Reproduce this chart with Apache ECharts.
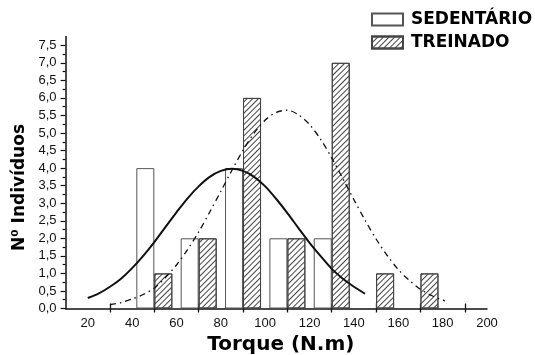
<!DOCTYPE html>
<html>
<head>
<meta charset="utf-8">
<script src="https://cdn.jsdelivr.net/npm/echarts@6/dist/echarts.min.js"></script>
<style>
  html, body { margin: 0; padding: 0; background: #fff; }
  #chart { width: 535px; height: 355px; }
</style>
</head>
<body>
<div id="chart"></div>
<script>
// histogram bins (centre of each 20 N.m class)
var binCenters = [50, 70, 90, 110, 130, 150, 170];
var sedentario = [4, 2, 4, 2, 2, 0, 0];
var treinado = [1, 2, 6, 2, 7, 1, 1];

// normal curves, every 5 N.m
var curveSedX = [20, 25, 30, 35, 40, 45, 50, 55, 60, 65, 70, 75, 80, 85, 90, 95, 100, 105, 110, 115, 120, 125, 130, 135, 140, 145];
var curveSedY = [0.30, 0.43, 0.62, 0.85, 1.15, 1.50, 1.89, 2.32, 2.74, 3.14, 3.48, 3.75, 3.92, 3.98, 3.92, 3.75, 3.48, 3.12, 2.72, 2.29, 1.87, 1.49, 1.13, 0.85, 0.62, 0.42];
var curveTreX = [30, 35, 40, 45, 50, 55, 60, 65, 70, 75, 80, 85, 90, 95, 100, 105, 110, 115, 120, 125, 130, 135, 140, 145, 150, 155, 160, 165, 170, 175, 181];
var curveTreY = [0.11, 0.17, 0.27, 0.40, 0.58, 0.88, 1.24, 1.68, 2.18, 2.75, 3.34, 3.94, 4.51, 5.00, 5.37, 5.59, 5.65, 5.52, 5.24, 4.82, 4.29, 3.70, 3.10, 2.52, 1.98, 1.51, 1.11, 0.80, 0.55, 0.37, 0.22];

// axis labels / tick marks
var xLabels = [20, 40, 60, 80, 100, 120, 140, 160, 180, 200];
var xTicks = [30, 50, 70, 90, 110, 130, 150, 170, 190];
var yLabels = ['0,0', '0,5', '1,0', '1,5', '2,0', '2,5', '3,0', '3,5', '4,0', '4,5', '5,0', '5,5', '6,0', '6,5', '7,0', '7,5'];

var FONT = 'DejaVu Sans';
var LABEL_FONT = 'Liberation Sans';

// category helpers used only to place tick marks
var xCats = [];
for (var v = 10; v <= 200; v += 10) xCats.push(v);
var yCats = [];
for (var k = 0; k < 32; k++) yCats.push(k * 0.25);

function pairs(xs, ys) {
  var out = [];
  for (var i = 0; i < xs.length; i++) out.push([xs[i], ys[i]]);
  return out;
}
function bars(vals) {
  var out = [];
  for (var i = 0; i < binCenters.length; i++) {
    if (vals[i] > 0) out.push([binCenters[i], vals[i]]);
  }
  return out;
}
function yLabelOf(v) {
  var idx = Math.round(v * 2);
  if (Math.abs(v * 2 - idx) > 1e-6) return '';
  return yLabels[idx] || '';
}

var hatch = {
  symbol: 'rect',
  symbolSize: 1,
  color: '#444',
  dashArrayX: [1, 0],
  dashArrayY: [1, 2.2],
  rotation: -Math.PI / 4
};

var tickCat = function (len, inside, show) {
  return {
    type: 'category',
    data: xCats,
    boundaryGap: false,
    position: 'bottom',
    axisLine: { show: false },
    axisLabel: { show: false },
    splitLine: { show: false },
    axisTick: {
      show: true,
      inside: inside,
      length: len,
      interval: function (i, val) { return show(+val); },
      lineStyle: { color: '#111', width: 1.3 }
    }
  };
};
var yTickCat = function (len, show) {
  return {
    type: 'category',
    data: yCats,
    boundaryGap: false,
    position: 'left',
    axisLine: { show: false },
    axisLabel: { show: false },
    splitLine: { show: false },
    axisTick: {
      show: true,
      length: len,
      interval: function (i) { return show(i); },
      lineStyle: { color: '#111', width: 1.2 }
    }
  };
};

var chart = echarts.init(document.getElementById('chart'));
chart.setOption({
  backgroundColor: '#fff',
  animation: false,
  textStyle: { fontFamily: LABEL_FONT },
  grid: { left: 65.6, right: 48, top: 36.5, bottom: 46.5, outerBoundsMode: 'none' },
  legend: {
    data: ['SEDENTÁRIO', 'TREINADO'],
    orient: 'vertical',
    left: 371,
    top: 11,
    padding: 0,
    icon: 'rect',
    itemWidth: 31,
    itemHeight: 12,
    itemGap: 6,
    textStyle: { fontFamily: FONT, fontWeight: 'bold', fontSize: 17, lineHeight: 16, color: '#000', padding: [0, 0, 0, 3] }
  },
  xAxis: [
    {
      type: 'value',
      min: 10,
      max: 200,
      interval: 10,
      name: 'Torque (N.m)',
      nameLocation: 'middle',
      nameGap: 24,
      nameTextStyle: { fontFamily: FONT, fontWeight: 'bold', fontSize: 20, color: '#000', padding: [0, 0, 0, 9] },
      axisLine: { lineStyle: { color: '#111', width: 1.5 } },
      axisTick: { show: false },
      splitLine: { show: false },
      axisLabel: {
        margin: 8,
        fontSize: 13,
        color: '#111',
        formatter: function (v) { return xLabels.indexOf(v) >= 0 ? String(v) : ''; }
      }
    },
    tickCat(5, true, function (v) { return xTicks.indexOf(v) >= 0; }),
    tickCat(4, false, function (v) { return xTicks.indexOf(v) >= 0; })
  ],
  yAxis: [
    {
      type: 'value',
      min: 0,
      max: 7.75,
      interval: 0.25,
      name: 'N⁰ Indivíduos',
      nameLocation: 'middle',
      nameGap: 33,
      nameTextStyle: { fontFamily: FONT, fontWeight: 'bold', fontSize: 17, color: '#000', padding: [0, 30, 0, 0] },
      axisLine: { lineStyle: { color: '#111', width: 1.5 } },
      axisTick: { show: false },
      splitLine: { show: false },
      axisLabel: { margin: 9, fontSize: 13, color: '#111', formatter: yLabelOf }
    },
    yTickCat(5, function (i) { return i % 2 === 0 && i < 31; }),
    yTickCat(3, function (i) { return i % 2 === 1 && i < 31; })
  ],
  series: [
    {
      name: 'SEDENTÁRIO',
      type: 'bar',
      barWidth: 18,
      barGap: '0%',
      data: bars(sedentario),
      itemStyle: { color: '#fff', borderColor: '#555', borderWidth: 1 }
    },
    {
      name: 'TREINADO',
      type: 'bar',
      barWidth: 18,
      barGap: '0%',
      data: bars(treinado),
      itemStyle: { color: '#fff', borderColor: '#444', borderWidth: 1, decal: hatch }
    },
    {
      type: 'line',
      data: pairs(curveSedX, curveSedY),
      smooth: 0.3,
      symbol: 'none',
      z: 5,
      lineStyle: { color: '#111', width: 2 }
    },
    {
      type: 'line',
      data: pairs(curveTreX, curveTreY),
      smooth: 0.3,
      symbol: 'none',
      z: 5,
      lineStyle: { color: '#111', width: 1.3, type: [6, 4, 1.5, 4] }
    }
  ]
});
</script>
</body>
</html>
